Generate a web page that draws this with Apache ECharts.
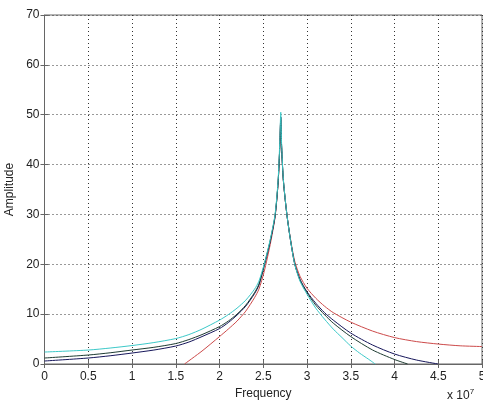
<!DOCTYPE html>
<html><head><meta charset="utf-8">
<script src="https://cdn.jsdelivr.net/npm/echarts@6/dist/echarts.min.js"></script>
<style>html,body{margin:0;padding:0;background:#fff}#c{width:483px;height:405px}</style>
</head><body><div id="c"></div>
<script>
// Frequency in units of 1e7
const cyanData = [[0,2.4],[0.5,2.8],[0.75,3.2],[1,3.7],[1.25,4.3],[1.5,5.1],[1.65,5.9],[1.8,7.0],[2,8.8],[2.1,9.9],[2.2,11.2],[2.3,12.8],[2.4,15.0],[2.45,16.6],[2.51,20],[2.58,25],[2.635,30],[2.67,37],[2.69,45],[2.7,50.5],[2.71,44],[2.73,37],[2.77,30],[2.81,25],[2.86,20],[2.92,16.6],[3.0,14.0],[3.1,11.2],[3.2,9.0],[3.3,7.0],[3.4,5.3],[3.5,3.6],[3.6,2.2],[3.7,1.0],[3.78,0]];
const blackData = [[0,1.2],[0.5,1.8],[0.75,2.25],[1,2.8],[1.25,3.35],[1.5,4.1],[1.65,4.9],[1.8,5.9],[2,7.5],[2.1,8.6],[2.2,10.0],[2.3,11.8],[2.4,14.3],[2.45,16.0],[2.51,19.8],[2.58,24.8],[2.635,29.8],[2.67,36.5],[2.69,44],[2.7,49.5],[2.71,43.5],[2.73,36.8],[2.77,30],[2.81,25],[2.86,20],[2.92,16.8],[3.0,14.3],[3.1,11.8],[3.2,9.9],[3.3,8.2],[3.5,5.5],[3.75,2.8],[4.0,0.9],[4.15,0]];
const navyData = [[0,0.6],[0.5,1.2],[0.75,1.65],[1,2.2],[1.25,2.8],[1.5,3.6],[1.65,4.4],[1.8,5.5],[2,7.1],[2.1,8.3],[2.2,9.8],[2.3,11.6],[2.4,14.1],[2.45,15.8],[2.51,19.6],[2.58,24.6],[2.635,29.6],[2.67,36.5],[2.69,44],[2.7,49.5],[2.71,43.5],[2.73,36.8],[2.77,30],[2.81,25],[2.86,20.1],[2.92,17.0],[3.0,14.5],[3.1,12.2],[3.2,10.3],[3.3,8.8],[3.5,6.2],[3.75,3.8],[4.0,2.0],[4.25,0.8],[4.5,0]];
const redData = [[1.6,0],[1.8,2.6],[2,5.5],[2.1,7.0],[2.2,8.6],[2.3,10.6],[2.4,13.3],[2.45,15.0],[2.51,18.5],[2.58,24],[2.635,29.5],[2.67,36.5],[2.69,44],[2.7,49],[2.71,43.5],[2.73,36.8],[2.77,30],[2.81,25.2],[2.86,20.6],[2.92,17.6],[3.0,15.2],[3.1,13.2],[3.2,11.6],[3.3,10.3],[3.5,8.4],[3.75,6.6],[4.0,5.3],[4.25,4.5],[4.5,4.0],[4.75,3.65],[5,3.5]];
const xTicks = [0,0.5,1,1.5,2,2.5,3,3.5,4,4.5,5];
const yTicks = [0,10,20,30,40,50,60,70];

const font = 'Liberation Sans';
const gridLine = {show:true, lineStyle:{color:'#333', type:[1,3], width:1}};
const mk = (data,color)=>({type:'line',data,showSymbol:false,smooth:0.25,lineStyle:{color,width:1},itemStyle:{color},z:3});
const chart = echarts.init(document.getElementById('c'));
chart.setOption({
  animation:false,
  backgroundColor:'#fff',
  grid:{left:44.5,right:1,top:15,bottom:41,show:true,borderColor:'#666',borderWidth:1,containLabel:false,outerBoundsMode:'none'},
  xAxis:[{type:'value',min:0,max:5,interval:0.5,
    axisLine:{show:true,onZero:false,lineStyle:{color:'#666'}},
    axisTick:{inside:true,length:4,lineStyle:{color:'#666'}},
    axisLabel:{color:'#222',fontFamily:font,fontSize:12,margin:7,formatter:v=>String(v)},
    splitLine:gridLine,
    name:'Frequency',nameLocation:'middle',nameGap:23,nameTextStyle:{color:'#222',fontFamily:font,fontSize:12}},
    {type:'value',position:'top',min:0,max:5,interval:0.5,axisLine:{show:false},axisTick:{inside:true,length:4,lineStyle:{color:'#666'}},axisLabel:{show:false},splitLine:{show:false}}],
  yAxis:[{type:'value',min:0,max:70,interval:10,
    axisLine:{show:true,onZero:false,lineStyle:{color:'#666'}},
    axisTick:{inside:true,length:4,lineStyle:{color:'#666'}},
    axisLabel:{color:'#222',fontFamily:font,fontSize:12,margin:5},
    splitLine:gridLine,
    name:'Amplitude',nameLocation:'middle',nameGap:25,nameRotate:90,nameTextStyle:{color:'#222',fontFamily:font,fontSize:12}},
    {type:'value',position:'right',min:0,max:70,interval:10,axisLine:{show:false},axisTick:{inside:true,length:4,lineStyle:{color:'#666'}},axisLabel:{show:false},splitLine:{show:false}}],
  graphic:[{type:'text',left:447,top:388,style:{rich:{b:{fontFamily:font,fontSize:12,fill:'#222'},s:{fontFamily:font,fontSize:8,fill:'#222',verticalAlign:'top',padding:[0,0,8,0]}},text:'{b|x 10}{s|7}'}}],
  series:[mk(redData,'#cc4a4a'),mk(navyData,'#16165a'),mk(blackData,'#1e3c32'),mk(cyanData,'#3cc8c8')]
});
</script></body></html>
